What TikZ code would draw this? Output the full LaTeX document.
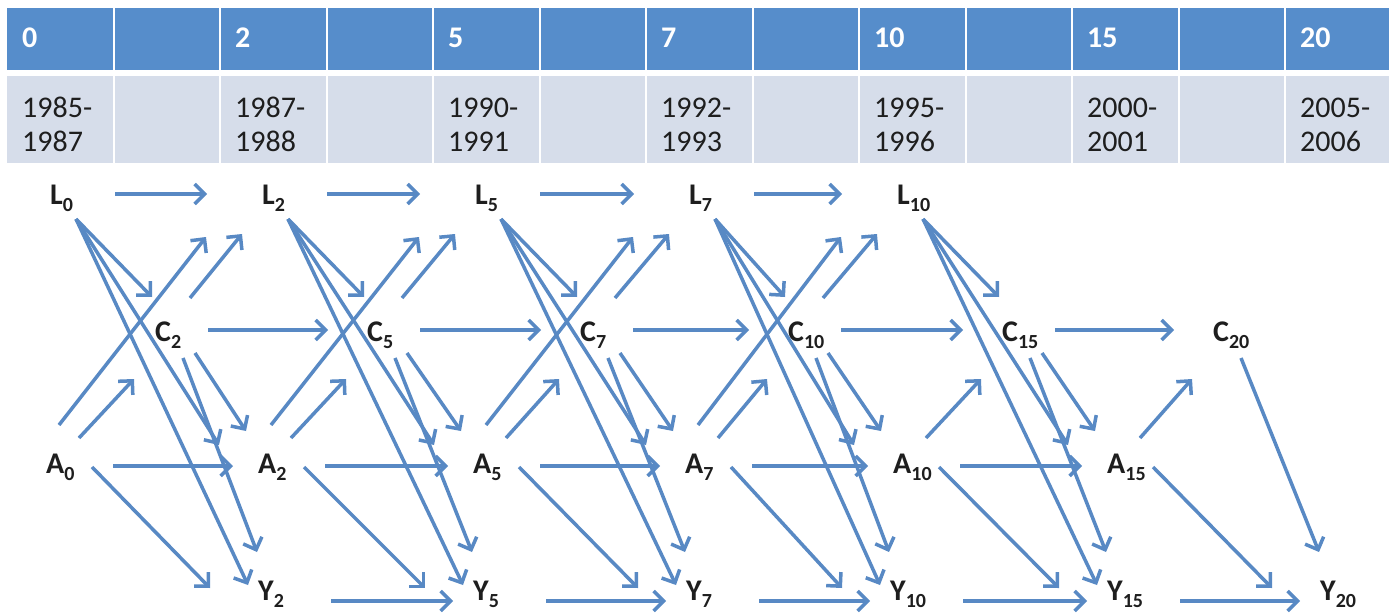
\documentclass[tikz,border=0pt]{standalone}
\usepackage{fontspec}
\setmainfont{Carlito}
\usetikzlibrary{arrows.meta,calc}
\definecolor{hdr}{RGB}{86,141,203}
\definecolor{rowc}{RGB}{214,221,234}
\definecolor{arrc}{RGB}{88,137,196}
\definecolor{txt}{RGB}{30,30,30}
\newcommand\sbs[1]{\raisebox{-7pt}{\fontsize{20}{20}\selectfont\bfseries #1}}
\newcommand\edg[4]{\draw[arr] ($(#1.base west)+(#2)$) -- ($(#3.base west)+(#4)$);}
\begin{document}
\begin{tikzpicture}[x=1pt,y=-1pt,
  lab/.style={font=\fontsize{30}{30}\selectfont\bfseries, text=txt, inner sep=0pt, anchor=base west},
  hd/.style={font=\fontsize{30}{30}\selectfont\bfseries, text=white, inner sep=0pt, anchor=base west},
  yr/.style={font=\fontsize{30}{30}\selectfont, text=txt, inner sep=0pt, anchor=base west},
  arr/.style={draw=arrc, line width=3.5pt, -{Straight Barb[length=10pt,width=20pt]}}]
\useasboundingbox (0,0) rectangle (1389,615);
\fill[white] (0,0) rectangle (1389,615);
% table
\fill[hdr] (7,8) rectangle (1389,70);
\fill[rowc] (7,76) rectangle (1389,163);
\foreach \i in {1,...,12} \fill[white] ({7+106.5*\i-1},8) rectangle ({7+106.5*\i+1},163);
\foreach \c/\n/\a/\b in {0/0/1985-/1987, 2/2/1987-/1988, 4/5/1990-/1991, 6/7/1992-/1993, 8/10/1995-/1996, 10/15/2000-/2001, 12/20/2005-/2006}{
  \node[hd] (h\n) at ({22+106.5*\c},48) {\n};
  \node[yr] (ya\n) at ({22+106.5*\c},118) {\a};
  \node[yr] (yb\n) at ({22+106.5*\c},152) {\b};
}
% nodes
\node[lab] (L0) at (50,204) {L\sbs{0}};
\node[lab] (L2) at (262,204) {L\sbs{2}};
\node[lab] (L5) at (475,204) {L\sbs{5}};
\node[lab] (L7) at (689,204) {L\sbs{7}};
\node[lab] (L10) at (897,204) {L\sbs{10}};
\node[lab] (C2) at (155,341) {C\sbs{2}};
\node[lab] (C5) at (367,341) {C\sbs{5}};
\node[lab] (C7) at (580,341) {C\sbs{7}};
\node[lab] (C10) at (788,341) {C\sbs{10}};
\node[lab] (C15) at (1002,341) {C\sbs{15}};
\node[lab] (C20) at (1213,341) {C\sbs{20}};
\node[lab] (A0) at (46,473) {A\sbs{0}};
\node[lab] (A2) at (258,473) {A\sbs{2}};
\node[lab] (A5) at (473,473) {A\sbs{5}};
\node[lab] (A7) at (685,473) {A\sbs{7}};
\node[lab] (A10) at (893,473) {A\sbs{10}};
\node[lab] (A15) at (1107,473) {A\sbs{15}};
\node[lab] (Y2) at (258,600) {Y\sbs{2}};
\node[lab] (Y5) at (473,600) {Y\sbs{5}};
\node[lab] (Y7) at (686,600) {Y\sbs{7}};
\node[lab] (Y10) at (890,600) {Y\sbs{10}};
\node[lab] (Y15) at (1107,600) {Y\sbs{15}};
\node[lab] (Y20) at (1320,600) {Y\sbs{20}};
% edges
\foreach \sa/\ta in {0/2,2/5,5/7,7/10}{
  \edg{L\sa}{65,-10}{L\ta}{-55,-10}
  \edg{A\sa}{13,-48}{L\ta}{-56,33}
  \edg{C\ta}{35,-43}{L\ta}{-20,30}
}
\foreach \sa/\ta in {0/2,2/5,5/7,7/10,10/15}{
  \edg{L\sa}{26,15}{C\ta}{-3,-44}
  \edg{L\sa}{26,15}{A\ta}{-39,-28}
  \edg{L\sa}{26,15}{Y\ta}{-10,-15}
  \edg{A\sa}{67,-7}{A\ta}{-25,-7}
  \edg{C\ta}{40,12}{A\ta}{-12,-42}
}
\foreach \sa/\ta in {0/2,2/5,5/7,7/10,10/15,15/20}{
  \edg{A\sa}{33,-35}{C\ta}{-21,38}
  \edg{A\sa}{46,-6}{Y\ta}{-48,-12}
  \edg{C\ta}{28,17}{Y\ta}{-1,-48}
}
\foreach \sa/\ta in {2/5,5/7,7/10,10/15,15/20}{
  \edg{C\sa}{53,-11}{C\ta}{-39,-11}
  \edg{Y\sa}{73,1}{Y\ta}{-20,1}
}
\end{tikzpicture}
\end{document}
